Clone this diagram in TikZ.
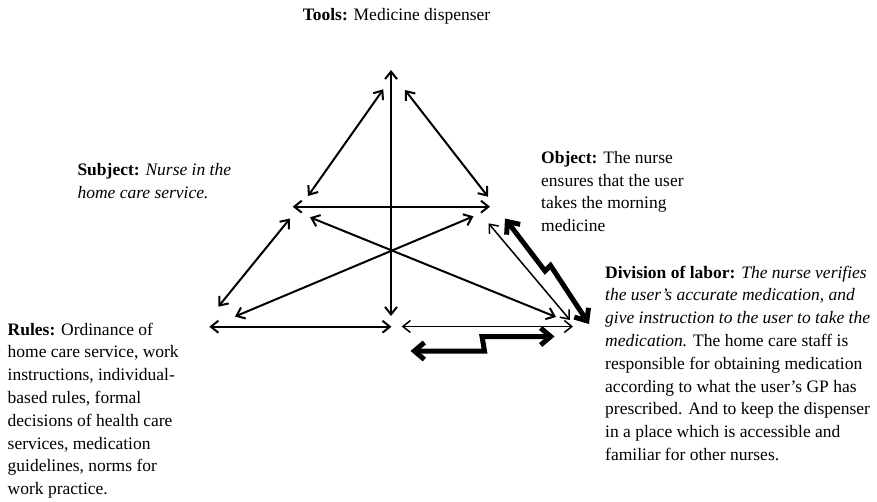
\documentclass[tikz,border=0pt]{standalone}
\usepackage{fontspec}
\setmainfont{Liberation Serif}
\usetikzlibrary{arrows.meta}

\begin{document}
\begin{tikzpicture}[x=1pt,y=-1pt,
    link/.style={line width=2pt,>={Straight Barb[length=7.5pt,width=12pt]},<->},
    bolt/.style={line width=5pt,>={Straight Barb[length=10pt,width=17pt]},<->},
    label/.style={font=\fontsize{17.5}{22.8}\selectfont,inner sep=0pt,align=left,anchor=north west}]
    \useasboundingbox (0,0) rectangle (877,501);

    \coordinate (tu) at (391,70);      \coordinate (td) at (391,316);
    \coordinate (a1) at (383.3,89.3);  \coordinate (a2) at (308,196);
    \coordinate (b1) at (405,90);      \coordinate (b2) at (488,196.7);
    \coordinate (m1) at (292.7,206.7); \coordinate (m2) at (490,206.7);
    \coordinate (c1) at (290,218.5);   \coordinate (c2) at (218.3,306.7);
    \coordinate (d1) at (235,316.5);   \coordinate (d2) at (473.5,216.3);
    \coordinate (e1) at (310,217.3);   \coordinate (e2) at (556,317);
    \coordinate (f1) at (488.5,223.3); \coordinate (f2) at (570,320);
    \coordinate (g1) at (209.3,326.7); \coordinate (g2) at (391.5,326.7);
    \coordinate (h1) at (401.7,326.5); \coordinate (h2) at (573,326.5);
    \coordinate (p1) at (505,218.5);   \coordinate (p2) at (545,271);
    \coordinate (p3) at (550.5,265.5); \coordinate (p4) at (589,324);
    \coordinate (q1) at (410.5,351);   \coordinate (q2) at (484.5,351);
    \coordinate (q3) at (482,336.5);   \coordinate (q4) at (554.5,336.5);

    \draw[link] (tu) -- (td);
    \draw[link] (a1) -- (a2);
    \draw[link] (b1) -- (b2);
    \draw[link] (m1) -- (m2);
    \draw[link] (c1) -- (c2);
    \draw[link] (d1) -- (d2);
    \draw[link] (e1) -- (e2);
    \draw[link,line width=1.5pt] (f1) -- (f2);
    \draw[link] (g1) -- (g2);
    \draw[link,line width=1.5pt] (h1) -- (h2);
    \draw[bolt] (p1) -- (p2) -- (p3) -- (p4);
    \draw[bolt] (q1) -- (q2) -- (q3) -- (q4);

    \node[label,anchor=base] (tools) at (396.5,20.5) {\textbf{Tools:} Medicine dispenser};
    \node[label] (subject) at (77.3,163) {\textbf{Subject:} \textit{Nurse in the}\\
        \textit{home care service.}};
    \node[label] (object) at (541,151) {\textbf{Object:} The nurse\\
        ensures that the user\\
        takes the morning\\
        medicine};
    \node[label] (rules) at (7.5,322.5) {\textbf{Rules:} Ordinance of\\
        home care service, work\\
        instructions, individual-\\
        based rules, formal\\
        decisions of health care\\
        services, medication\\
        guidelines, norms for\\
        work practice.};
    \node[label] (division) at (605,265.5) {\textbf{Division of labor:} \textit{The nurse verifies}\\
        \textit{the user's accurate medication, and}\\
        \textit{give instruction to the user to take the}\\
        \textit{medication.} The home care staff is\\
        responsible for obtaining medication\\
        according to what the user's GP has\\
        prescribed. And to keep the dispenser\\
        in a place which is accessible and\\
        familiar for other nurses.};
\end{tikzpicture}
\end{document}
